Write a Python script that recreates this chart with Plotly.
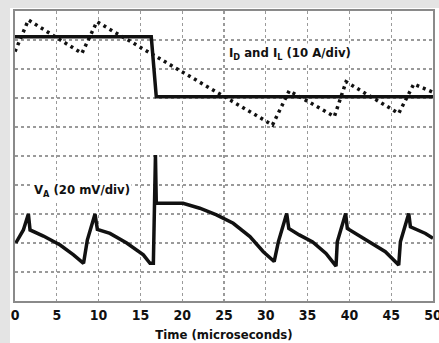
import plotly.graph_objects as go

# ---- data (x in microseconds, y in scope divisions) ----
t_il = [0, 1.6, 8.0, 9.8, 30.8, 32.8, 38.2, 39.6, 45.9, 47.7, 50]
il_div = [8.6, 9.69, 8.54, 9.63, 6.07, 7.25, 6.36, 7.56, 6.47, 7.48, 7.2]

t_id = [0, 16.3, 16.9, 50]
id_div = [9.11, 9.11, 7.04, 7.04]

t_va = [0.1, 1.0, 1.6, 1.8, 3.4, 5.4, 7.0, 8.2,
        8.65, 9.57, 9.85, 11.36, 13.36, 15.35, 16.15,
        16.55, 16.8, 16.9, 20.1, 22.1, 24.1, 26.1, 28.1, 29.7, 31.0,
        31.5, 32.5, 32.75, 34.0, 35.6, 37.2, 38.4,
        38.55, 39.55, 39.75, 42.3, 44.3, 45.9,
        46.1, 47.1, 47.3, 49.1, 50]
va_div = [2.0, 2.45, 3.0, 2.45, 2.24, 1.93, 1.59, 1.3,
          2.1, 3.0, 2.47, 2.33, 2.0, 1.59, 1.3,
          1.3, 5.03, 3.37, 3.37, 3.2, 2.97, 2.68, 2.22, 1.7, 1.36,
          2.04, 3.02, 2.5, 2.28, 2.04, 1.64, 1.2,
          2.04, 3.02, 2.5, 2.04, 1.7, 1.24,
          2.04, 3.02, 2.56, 2.33, 2.16]

x_ticks = [0, 5, 10, 15, 20, 25, 30, 35, 40, 45, 50]

FONT = "DejaVu Sans Condensed, DejaVu Sans, sans-serif"

fig = go.Figure()
fig.add_trace(go.Scatter(x=t_il, y=il_div, mode="lines",
                         line=dict(color="#111", width=3.5, dash="3px,4px"),
                         hoverinfo="skip", showlegend=False))
fig.add_trace(go.Scatter(x=t_id, y=id_div, mode="lines",
                         line=dict(color="#111", width=3.5),
                         hoverinfo="skip", showlegend=False))
fig.add_trace(go.Scatter(x=t_va, y=va_div, mode="lines",
                         line=dict(color="#111", width=3.5),
                         hoverinfo="skip", showlegend=False))

W, H = 439, 343
L, R, T, B = 15, 6, 11, 42
pw, ph = W - L - R, H - T - B

def px_x(p):
    return (p - L) / pw

def px_y(p):
    return (H - B - p) / ph

def dx(p):
    return (p - L) / pw * 50

def dy(p):
    return (H - B - p) / ph * 10

shapes = [
    dict(type="rect", xref="paper", yref="paper", layer="below",
         x0=px_x(0), x1=px_x(10), y0=px_y(H), y1=px_y(0),
         fillcolor="#e4e4e4", line=dict(width=0)),
    dict(type="rect", xref="paper", yref="paper", layer="below",
         x0=px_x(0), x1=px_x(W), y0=px_y(8), y1=px_y(0),
         fillcolor="#e4e4e4", line=dict(width=0)),
]

fig.update_layout(
    width=W, height=H,
    margin=dict(l=L, r=R, t=T, b=B, autoexpand=False),
    paper_bgcolor="white", plot_bgcolor="white",
    shapes=shapes,
    xaxis=dict(range=[0, 50], tickvals=x_ticks,
               ticktext=["<b>%d</b>" % v for v in x_ticks],
               showgrid=True, gridcolor="#9a9a9a", griddash="dot", gridwidth=1.2,
               showline=True, mirror=True, linecolor="#8a8a8a", linewidth=2,
               zeroline=False, ticks="", ticklen=0, automargin=False,
               ticklabeloverflow="allow",
               tickfont=dict(family=FONT, size=14, color="#111"),
               title=dict(text="<b>Time (microseconds)</b>", standoff=8,
                          font=dict(family=FONT, size=13, color="#111"))),
    yaxis=dict(range=[0, 10], dtick=1, showticklabels=False,
               showgrid=True, gridcolor="#9a9a9a", griddash="dot", gridwidth=1.2,
               showline=True, mirror=True, linecolor="#8a8a8a", linewidth=2,
               zeroline=False, ticks="", automargin=False),
    annotations=[
        dict(x=dx(290), y=dy(53), xref="x", yref="y",
             text="<b>I<sub>D</sub> and I<sub>L</sub> (10 A/div)</b>",
             showarrow=False, font=dict(family=FONT, size=13, color="#111"),
             xanchor="center", yanchor="middle", bgcolor="white"),
        dict(x=dx(82), y=dy(190), xref="x", yref="y",
             text="<b>V<sub>A</sub> (20 mV/div)</b>",
             showarrow=False, font=dict(family=FONT, size=13, color="#111"),
             xanchor="center", yanchor="middle", bgcolor="white"),
    ],
)

fig.write_html("out.html", config={"displayModeBar": False, "staticPlot": True},
               post_script="document.body.style.margin='0';document.body.style.padding='0';")
